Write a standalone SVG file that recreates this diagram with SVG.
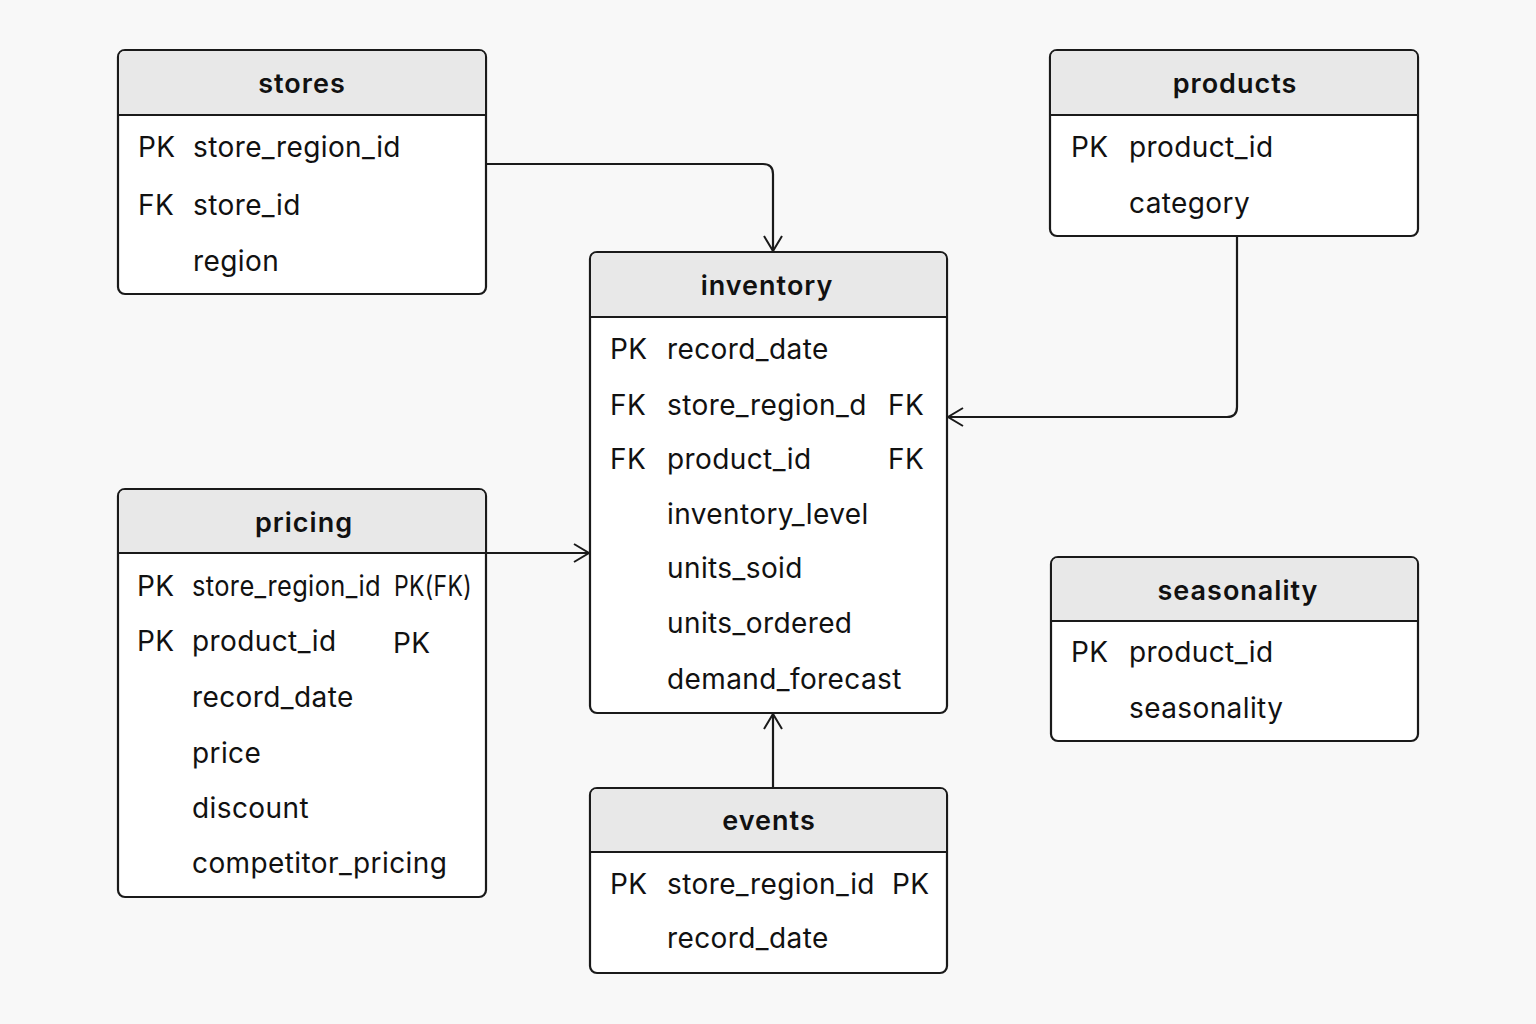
<svg xmlns="http://www.w3.org/2000/svg" width="1536" height="1024" viewBox="0 0 1536 1024">
<defs>
<style>
.box{fill:#ffffff;stroke:#1a1a1a;stroke-width:2.2}
.hdr{fill:#e8e8e8}
.div{stroke:#1a1a1a;stroke-width:2.2}
.t{font-family:Inter,"Noto Sans","DejaVu Sans",sans-serif;font-weight:600;font-size:27px;letter-spacing:1px;fill:#111;text-anchor:middle}
.f{font-family:Inter,"Noto Sans","DejaVu Sans",sans-serif;font-size:28px;letter-spacing:0.4px;fill:#111}
.c{fill:none;stroke:#1a1a1a;stroke-width:2.2}
</style>
<marker id="arr" viewBox="0 0 20 20" refX="18" refY="10" markerWidth="20" markerHeight="20" markerUnits="userSpaceOnUse" orient="auto">
<path d="M3,1 L18,10 L3,19" fill="none" stroke="#1a1a1a" stroke-width="2"/>
</marker>
</defs>
<rect width="1536" height="1024" fill="#f8f8f8"/>

<g id="connectors">
<path class="c" d="M486,164 H763 Q773,164 773,174 V251" marker-end="url(#arr)"/>
<path class="c" d="M1237,236 V407 Q1237,417 1227,417 H948" marker-end="url(#arr)"/>
<path class="c" d="M486,553 H589" marker-end="url(#arr)"/>
<path class="c" d="M773,788 V714" marker-end="url(#arr)"/>
</g>

<g id="stores">
<rect class="box" x="118" y="50" width="368" height="244" rx="7"/>
<path class="hdr" d="M119.1,115 V57 Q119.1,51.1 125,51.1 H479 Q484.9,51.1 484.9,57 V115 Z"/>
<line class="div" x1="118" y1="115" x2="486" y2="115"/>
<text class="t" x="302" y="93">stores</text>
<text class="f" x="138" y="157">PK</text><text class="f" x="193" y="157">store_region_id</text>
<text class="f" x="138" y="215">FK</text><text class="f" x="193" y="215">store_id</text>
<text class="f" x="193" y="271">region</text>
</g>

<g id="products">
<rect class="box" x="1050" y="50" width="368" height="186" rx="7"/>
<path class="hdr" d="M1051.1,115 V57 Q1051.1,51.1 1057,51.1 H1411 Q1416.9,51.1 1416.9,57 V115 Z"/>
<line class="div" x1="1050" y1="115" x2="1418" y2="115"/>
<text class="t" x="1235" y="93">products</text>
<text class="f" x="1071" y="157">PK</text><text class="f" x="1129" y="157">product_id</text>
<text class="f" x="1129" y="213">category</text>
</g>

<g id="inventory">
<rect class="box" x="590" y="252" width="357" height="461" rx="7"/>
<path class="hdr" d="M591.1,317 V259 Q591.1,253.1 597,253.1 H940 Q945.9,253.1 945.9,259 V317 Z"/>
<line class="div" x1="590" y1="317" x2="947" y2="317"/>
<text class="t" x="767" y="295">inventory</text>
<text class="f" x="610" y="359">PK</text><text class="f" x="667" y="359">record_date</text>
<text class="f" x="610" y="415">FK</text><text class="f" x="667" y="415">store_region_d</text><text class="f" x="888" y="415">FK</text>
<text class="f" x="610" y="469">FK</text><text class="f" x="667" y="469">product_id</text><text class="f" x="888" y="469">FK</text>
<text class="f" x="667" y="524">inventory_level</text>
<text class="f" x="667" y="578">units_soid</text>
<text class="f" x="667" y="633">units_ordered</text>
<text class="f" x="667" y="689">demand_forecast</text>
</g>

<g id="pricing">
<rect class="box" x="118" y="489" width="368" height="408" rx="7"/>
<path class="hdr" d="M119.1,553 V496 Q119.1,490.1 125,490.1 H479 Q484.9,490.1 484.9,496 V553 Z"/>
<line class="div" x1="118" y1="553" x2="486" y2="553"/>
<text class="t" x="304" y="532">pricing</text>
<text class="f" x="137" y="596">PK</text><text class="f" x="192" y="596" textLength="189" lengthAdjust="spacingAndGlyphs">store_region_id</text><text class="f" x="394" y="596" textLength="78" lengthAdjust="spacingAndGlyphs">PK(FK)</text>
<text class="f" x="137" y="651">PK</text><text class="f" x="192" y="651">product_id</text><text class="f" x="393" y="653">PK</text>
<text class="f" x="192" y="707">record_date</text>
<text class="f" x="192" y="763">price</text>
<text class="f" x="192" y="818">discount</text>
<text class="f" x="192" y="873">competitor_pricing</text>
</g>

<g id="seasonality">
<rect class="box" x="1051" y="557" width="367" height="184" rx="7"/>
<path class="hdr" d="M1052.1,621 V564 Q1052.1,558.1 1058,558.1 H1411 Q1416.9,558.1 1416.9,564 V621 Z"/>
<line class="div" x1="1051" y1="621" x2="1418" y2="621"/>
<text class="t" x="1238" y="600">seasonality</text>
<text class="f" x="1071" y="662">PK</text><text class="f" x="1129" y="662">product_id</text>
<text class="f" x="1129" y="718">seasonality</text>
</g>

<g id="events">
<rect class="box" x="590" y="788" width="357" height="185" rx="7"/>
<path class="hdr" d="M591.1,852 V795 Q591.1,789.1 597,789.1 H940 Q945.9,789.1 945.9,795 V852 Z"/>
<line class="div" x1="590" y1="852" x2="947" y2="852"/>
<text class="t" x="769" y="830">events</text>
<text class="f" x="610" y="894">PK</text><text class="f" x="667" y="894">store_region_id</text><text class="f" x="892" y="894">PK</text>
<text class="f" x="667" y="948">record_date</text>
</g>
</svg>
